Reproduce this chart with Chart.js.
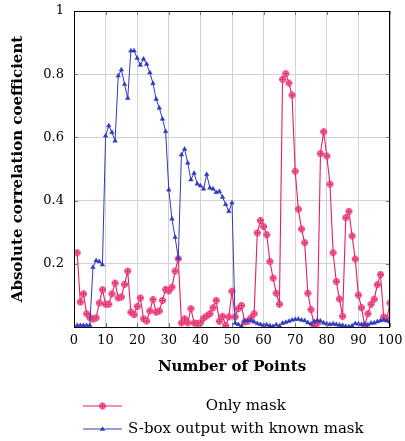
<!DOCTYPE html>
<html>
<head>
<meta charset="utf-8">
<script src="https://cdn.jsdelivr.net/npm/chart.js@4.4.1/dist/chart.umd.min.js"></script>
<style>
  html, body { margin: 0; padding: 0; background: #ffffff; }
  #wrap { width: 405px; height: 441px; }
</style>
</head>
<body>
<div id="wrap"><canvas id="chart" width="405" height="441"></canvas></div>
<script>
// Number of points (x positions)
const pointIndex = [
  1, 2, 3, 4, 5, 6, 7, 8, 9, 10, 11, 12, 13, 14, 15, 16, 17, 18, 19, 20,
  21, 22, 23, 24, 25, 26, 27, 28, 29, 30, 31, 32, 33, 34, 35, 36, 37, 38, 39, 40,
  41, 42, 43, 44, 45, 46, 47, 48, 49, 50, 51, 52, 53, 54, 55, 56, 57, 58, 59, 60,
  61, 62, 63, 64, 65, 66, 67, 68, 69, 70, 71, 72, 73, 74, 75, 76, 77, 78, 79, 80,
  81, 82, 83, 84, 85, 86, 87, 88, 89, 90, 91, 92, 93, 94, 95, 96, 97, 98, 99, 100
];

// Absolute correlation coefficient, mask only
const onlyMask = [
  0.235, 0.079, 0.105, 0.042, 0.030, 0.025, 0.029, 0.076, 0.118, 0.072,
  0.072, 0.105, 0.139, 0.092, 0.095, 0.135, 0.177, 0.047, 0.039, 0.065,
  0.092, 0.026, 0.019, 0.051, 0.087, 0.047, 0.051, 0.084, 0.119, 0.114,
  0.126, 0.177, 0.216, 0.013, 0.026, 0.013, 0.058, 0.013, 0.011, 0.013,
  0.028, 0.035, 0.042, 0.061, 0.084, 0.018, 0.034, 0.005, 0.032, 0.113,
  0.032, 0.058, 0.068, 0.016, 0.018, 0.029, 0.042, 0.298, 0.337, 0.318,
  0.292, 0.207, 0.155, 0.107, 0.072, 0.784, 0.802, 0.772, 0.734, 0.493,
  0.373, 0.310, 0.267, 0.107, 0.055, 0.003, 0.012, 0.549, 0.618, 0.541,
  0.452, 0.235, 0.144, 0.089, 0.034, 0.346, 0.366, 0.288, 0.215, 0.101,
  0.061, 0.002, 0.042, 0.072, 0.088, 0.134, 0.166, 0.032, 0.026, 0.076
];

// Absolute correlation coefficient, S-box output with known mask
const sboxKnownMask = [
  0.005, 0.005, 0.005, 0.005, 0.005, 0.189, 0.210, 0.207, 0.197, 0.605,
  0.637, 0.616, 0.589, 0.795, 0.814, 0.768, 0.724, 0.874, 0.874, 0.851,
  0.829, 0.848, 0.832, 0.805, 0.771, 0.721, 0.693, 0.658, 0.619, 0.434,
  0.342, 0.284, 0.218, 0.545, 0.563, 0.519, 0.466, 0.487, 0.453, 0.447,
  0.437, 0.483, 0.440, 0.437, 0.426, 0.429, 0.411, 0.388, 0.366, 0.393,
  0.012, 0.008, 0.003, 0.020, 0.020, 0.021, 0.016, 0.011, 0.008, 0.005,
  0.007, 0.004, 0.002, 0.007, 0.003, 0.012, 0.015, 0.018, 0.022, 0.024,
  0.025, 0.022, 0.020, 0.014, 0.010, 0.018, 0.021, 0.019, 0.013, 0.010,
  0.008, 0.010, 0.008, 0.006, 0.005, 0.002, 0.001, 0.004, 0.011, 0.010,
  0.008, 0.010, 0.007, 0.012, 0.013, 0.017, 0.020, 0.022, 0.020, 0.016
];

const seriesNames = ['Only mask', 'S-box output with known mask'];
const xTitle = 'Number of Points';
const yTitle = 'Absolute correlation coefficient';

const RED = 'rgb(228, 30, 102)';
const RED_FILL = 'rgb(240, 128, 168)';
const BLUE = 'rgb(48, 58, 188)';
const SERIF = '"DejaVu Serif", "Liberation Serif", serif';

// Circle-with-plus marker
function makeOplus(r) {
  const s = Math.ceil(r * 2 + 3);
  const c = document.createElement('canvas');
  c.width = s; c.height = s;
  const g = c.getContext('2d');
  const m = s / 2;
  g.beginPath();
  g.arc(m, m, r, 0, Math.PI * 2);
  g.fillStyle = RED_FILL;
  g.fill();
  g.lineWidth = 0.9;
  g.strokeStyle = RED;
  g.stroke();
  g.beginPath();
  g.moveTo(m - r, m); g.lineTo(m + r, m);
  g.moveTo(m, m - r); g.lineTo(m, m + r);
  g.stroke();
  return c;
}
const oplus = makeOplus(3);

const toPoints = (xs, ys) => xs.map((x, i) => ({ x: x, y: ys[i] }));

// Full frame around the plot and short inward ticks on every side
const framePlugin = {
  id: 'frame',
  afterDatasetsDraw(chart) {
    const { ctx, chartArea: a, scales } = chart;
    ctx.save();
    ctx.strokeStyle = 'rgb(120,120,120)';
    ctx.lineWidth = 1;
    const len = 4;
    scales.x.ticks.forEach(t => {
      const px = Math.round(scales.x.getPixelForValue(t.value)) + 0.5;
      ctx.beginPath();
      ctx.moveTo(px, a.top); ctx.lineTo(px, a.top + len);
      ctx.moveTo(px, a.bottom); ctx.lineTo(px, a.bottom - len);
      ctx.stroke();
    });
    scales.y.ticks.forEach(t => {
      const py = Math.round(scales.y.getPixelForValue(t.value)) + 0.5;
      ctx.beginPath();
      ctx.moveTo(a.left, py); ctx.lineTo(a.left + len, py);
      ctx.moveTo(a.right, py); ctx.lineTo(a.right - len, py);
      ctx.stroke();
    });
    ctx.strokeStyle = '#000';
    ctx.lineWidth = 1;
    ctx.strokeRect(Math.round(a.left) + 0.5, Math.round(a.top) + 0.5,
                   Math.round(a.right - a.left) - 1, Math.round(a.bottom - a.top));
    ctx.restore();
  }
};

// Legend below the axis: sample line with marker, then a centred text column
const legendPlugin = {
  id: 'belowLegend',
  afterDraw(chart) {
    const { ctx } = chart;
    ctx.save();
    ctx.font = '15px ' + SERIF;
    const lineX0 = 83, lineX1 = 122, textLeft = 128;
    const rows = [406, 429];
    const widths = seriesNames.map(n => ctx.measureText(n).width);
    const colW = Math.max.apply(null, widths);
    const colors = [RED, BLUE];
    seriesNames.forEach((name, i) => {
      const y = rows[i];
      ctx.strokeStyle = colors[i];
      ctx.lineWidth = 1.2;
      ctx.beginPath();
      ctx.moveTo(lineX0, y); ctx.lineTo(lineX1, y);
      ctx.stroke();
      const mx = (lineX0 + lineX1) / 2;
      if (i === 0) {
        ctx.drawImage(oplus, mx - oplus.width / 2, y - oplus.height / 2);
      } else {
        const r = 2.8;
        ctx.fillStyle = BLUE;
        ctx.beginPath();
        ctx.moveTo(mx, y - r);
        ctx.lineTo(mx + r * 0.95, y + r * 0.6);
        ctx.lineTo(mx - r * 0.95, y + r * 0.6);
        ctx.closePath();
        ctx.fill();
      }
      ctx.fillStyle = '#000';
      ctx.textBaseline = 'middle';
      ctx.textAlign = 'center';
      ctx.fillText(name, textLeft + colW / 2, y);
    });
    ctx.restore();
  }
};

new Chart(document.getElementById('chart'), {
  type: 'line',
  data: {
    datasets: [
      {
        label: seriesNames[0],
        data: toPoints(pointIndex, onlyMask),
        borderColor: RED,
        borderWidth: 1.1,
        pointStyle: oplus,
        pointRadius: 3,
        tension: 0,
        order: 1
      },
      {
        label: seriesNames[1],
        data: toPoints(pointIndex, sboxKnownMask),
        borderColor: BLUE,
        backgroundColor: BLUE,
        borderWidth: 1,
        pointStyle: 'triangle',
        pointRadius: 2.6,
        pointBorderWidth: 0.5,
        pointBackgroundColor: BLUE,
        pointBorderColor: BLUE,
        tension: 0,
        order: 0
      }
    ]
  },
  options: {
    responsive: false,
    animation: false,
    devicePixelRatio: 1,
    layout: { padding: { top: 11, right: 15, bottom: 64, left: 0 } },
    plugins: {
      legend: { display: false },
      tooltip: { enabled: false }
    },
    scales: {
      x: {
        type: 'linear',
        min: 0,
        max: 100,
        ticks: {
          stepSize: 10,
          padding: 6,
          color: '#000',
          font: { family: SERIF, size: 13 },
          maxRotation: 0
        },
        grid: { color: 'rgb(210,210,210)', lineWidth: 1, drawTicks: false },
        border: { display: false },
        title: {
          display: true,
          text: xTitle,
          color: '#000',
          font: { family: SERIF, size: 15, weight: 'bold' },
          padding: { top: 0, bottom: 1 }
        },
        afterFit(scale) {
          scale.height = 50;
          scale.paddingLeft = 0;
          scale.paddingRight = 0;
        }
      },
      y: {
        min: 0,
        max: 1,
        ticks: {
          stepSize: 0.2,
          padding: 10,
          color: '#000',
          font: { family: SERIF, size: 13 },
          callback: (v) => (v === 0 ? '' : String(Math.round(v * 10) / 10))
        },
        grid: { color: 'rgb(210,210,210)', lineWidth: 1, drawTicks: false },
        border: { display: false },
        title: {
          display: true,
          text: yTitle,
          color: '#000',
          font: { family: SERIF, size: 15, weight: 'bold' },
          padding: { top: 9, bottom: 0 }
        },
        afterFit(scale) {
          scale.width = 74;
          scale.paddingTop = 0;
          scale.paddingBottom = 0;
        }
      }
    }
  },
  plugins: [framePlugin, legendPlugin]
});
</script>
</body>
</html>
